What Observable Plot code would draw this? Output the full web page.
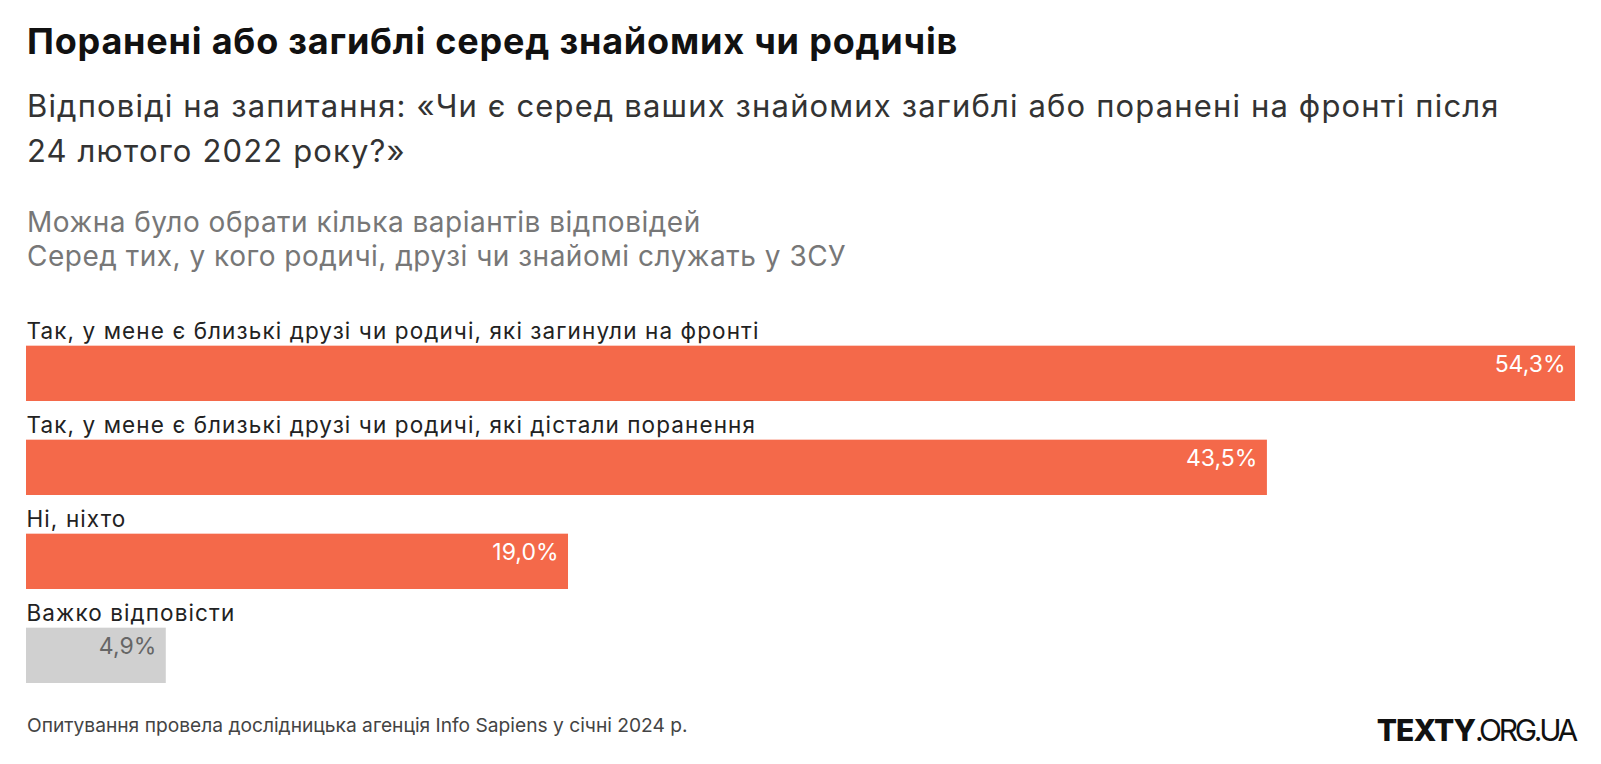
<!DOCTYPE html>
<html><head><meta charset="utf-8">
<script src="https://cdn.jsdelivr.net/npm/d3@7"></script>
<script src="https://cdn.jsdelivr.net/npm/@observablehq/plot@0.6"></script>
<style>
body{margin:0;background:#fff;font-family:Inter, "Noto Sans", sans-serif;}
#wrap{position:relative;width:1601px;height:764px;overflow:hidden;background:#fff;}
.t{position:absolute;left:27px;white-space:nowrap;line-height:1;}
#title{top:23.2px;font-size:36px;font-weight:700;color:#111;letter-spacing:0.8px;}
.sub{font-size:31px;color:#333;letter-spacing:1.15px;}
.note{font-size:28px;color:#777;letter-spacing:0.5px;}
#chart{position:absolute;left:0;top:290px;}
#footer{top:715.7px;font-size:19.2px;color:#444;}
#logo{position:absolute;right:26px;top:714.8px;font-size:30px;line-height:1;color:#111;white-space:nowrap;}
#logo b{font-weight:800;letter-spacing:-1px;}
#logo span{letter-spacing:-3.3px;}
</style></head><body><div id="wrap">
<div class="t" id="title">Поранені або загиблі серед знайомих чи родичів</div>
<div class="t sub" style="top:90.2px">Відповіді на запитання: «Чи є серед ваших знайомих загиблі або поранені на фронті після</div>
<div class="t sub" style="top:134.9px">24 лютого 2022 року?»</div>
<div class="t note" style="top:207.5px">Можна було обрати кілька варіантів відповідей</div>
<div class="t note" style="top:241.8px">Серед тих, у кого родичі, друзі чи знайомі служать у ЗСУ</div>
<div id="chart"></div>
<div class="t" id="footer">Опитування провела дослідницька агенція Info Sapiens у січні 2024 р.</div>
<div id="logo"><b>TEXTY</b><span>.ORG.UA</span></div>
</div>
<script>
const categories = [
  "Так, у мене є близькі друзі чи родичі, які загинули на фронті",
  "Так, у мене є близькі друзі чи родичі, які дістали поранення",
  "Ні, ніхто",
  "Важко відповісти"
];
const values = [54.3, 43.5, 19.0, 4.9];
const groups = ["answer", "answer", "answer", "hard"];

const data = categories.map((c, i) => ({category: c, value: values[i], group: groups[i]}));
const fmt = v => v.toFixed(1).replace(".", ",") + "%";

const chart = Plot.plot({
  width: 1601,
  height: 410,
  marginLeft: 26,
  marginRight: 26,
  marginTop: 15.33,
  marginBottom: 16,
  x: {domain: [0, d3.max(values)], axis: null},
  y: {domain: categories, axis: null, padding: 0},
  color: {domain: ["answer", "hard"], range: ["#f4694a", "#d0d0d0"]},
  style: {fontFamily: "Inter, 'Noto Sans', sans-serif", background: "transparent"},
  marks: [
    Plot.barX(data, {x: "value", y: "category", fill: "group", insetTop: 38.67}),
    Plot.text(data, {x: 0, y: "category", text: "category", textAnchor: "start", dy: -23.16, fontSize: 22.5, fill: "#222"}),
    Plot.text(data, {x: "value", y: "category", text: d => fmt(d.value), textAnchor: "end", dx: -10, dy: 9.68, fontSize: 23,
      fill: d => d.group === "hard" ? "#666" : "#fff"})
  ]
});
d3.select(chart).selectAll("text")
  .filter(function() { return categories.includes(this.textContent); })
  .style("letter-spacing", "1.1px");
document.getElementById("chart").appendChild(chart);
</script>
</body></html>
